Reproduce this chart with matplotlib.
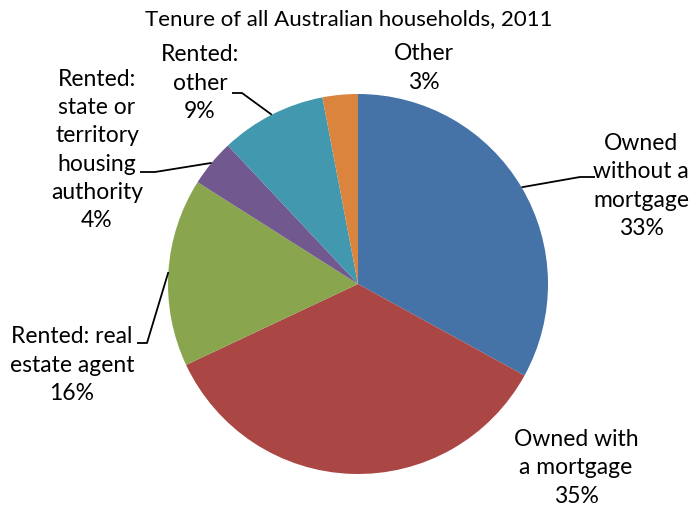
import numpy as np
import matplotlib
matplotlib.use("Agg")
import matplotlib.pyplot as plt

plt.rcParams['font.family'] = ['Lato', 'DejaVu Sans']

title = "Tenure of all Australian households, 2011"
categories = ["Owned\nwithout a\nmortgage", "Owned with\na mortgage", "Rented: real\nestate agent",
              "Rented:\nstate or\nterritory\nhousing\nauthority", "Rented:\nother", "Other"]
values = [33, 35, 16, 4, 9, 3]
colors = ["#4572A7", "#AA4643", "#89A54E", "#71588F", "#4198AF", "#DB843D"]

W, H = 698, 509
fig = plt.figure(figsize=(W / 100, H / 100), dpi=100)
ax = fig.add_axes([0, 0, 1, 1])

cx, cy, R = 358, H - 284, 190
wedges, _ = ax.pie(values, colors=colors, startangle=90, counterclock=False,
                   center=(cx, cy), radius=R, frame=True,
                   wedgeprops=dict(linewidth=0))
ax.set_xlim(0, W)
ax.set_ylim(0, H)
ax.set_aspect('equal')
ax.axis('off')

# label layout: (text center x, text center y from top, elbow point, horizontal end) in pixels
layout = [
    (641, 186, (580, 177), (595, 177)),
    (576, 468, None, None),
    (72, 365, (147, 343), (137, 343)),
    (97, 150, (155, 172), (140, 172)),
    (200, 83, (242, 93), (232, 93)),
    (424, 68, None, None),
]

fs = 16.5
for w, cat, v, (tx, ty, elbow, hend) in zip(wedges, categories, values, layout):
    ax.text(tx, H - ty, f"{cat}\n{v}%", ha='center', va='center', fontsize=fs,
            color='black', linespacing=1.42)
    if elbow is not None:
        mid = np.deg2rad((w.theta1 + w.theta2) / 2)
        sx, sy = cx + R * np.cos(mid), cy + R * np.sin(mid)
        ax.plot([sx, elbow[0], hend[0]], [sy, H - elbow[1], H - hend[1]],
                color='black', lw=1.3, solid_capstyle='butt')

ax.text(349, H - 19, title, ha='center', va='center', fontsize=16, color='black')

fig.savefig("out.png", dpi=100)
